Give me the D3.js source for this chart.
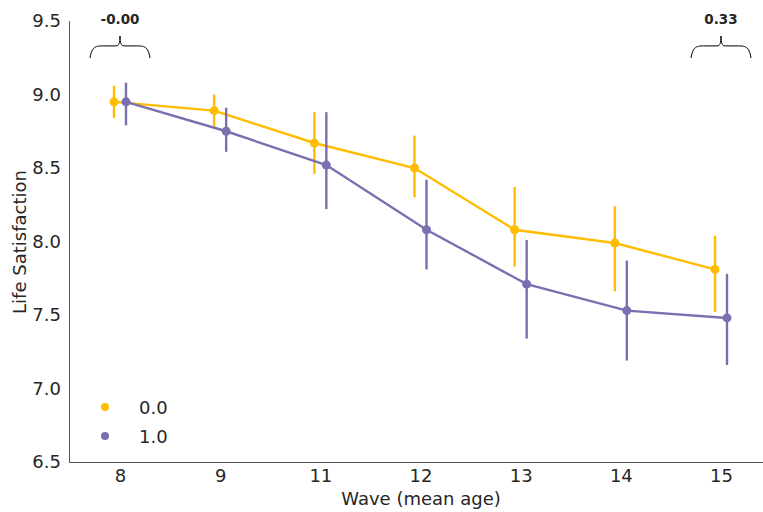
<!DOCTYPE html>
<html>
<head>
<meta charset="utf-8">
<script src="https://cdn.jsdelivr.net/npm/d3@7"></script>
<style>
  html, body { margin: 0; padding: 0; background: #fff; }
  text { font-family: "DejaVu Sans", sans-serif; fill: #262626; }
</style>
</head>
<body>
<svg id="chart" width="763" height="512"></svg>
<script>
// waves (mean age) on the x axis
const waves = ['8', '9', '11', '12', '13', '14', '15']
const groups = ['0.0', '1.0']
const colors = ['#FFBC00', '#7B6FAF']

// mean life satisfaction and 95% ci per group
const mean0 = [8.95, 8.89, 8.67, 8.50, 8.08, 7.99, 7.81]
const lo0 = [8.84, 8.78, 8.46, 8.30, 7.83, 7.66, 7.52]
const hi0 = [9.06, 9.00, 8.88, 8.72, 8.37, 8.24, 8.04]

const mean1 = [8.95, 8.75, 8.52, 8.08, 7.71, 7.53, 7.48]
const lo1 = [8.79, 8.61, 8.22, 7.81, 7.34, 7.19, 7.16]
const hi1 = [9.08, 8.91, 8.88, 8.42, 8.01, 7.87, 7.78]

// difference annotations above the first and last wave
const diffWaves = ['8', '15']
const diffLabels = ['-0.00', '0.33']

const yTicks = [6.5, 7.0, 7.5, 8.0, 8.5, 9.0, 9.5]

//
// Layout
//
const svg = d3.select('#chart')
const mLeft = 69, mTop = 21, mBottom = 462
const fontSize = '18px'
const x = d3.scalePoint().domain(waves).range([120, 721])
const y = d3.scaleLinear().domain([6.5, 9.5]).range([mBottom, mTop])
const dodge = 6

const series = groups.map((g, i) => ({
  name: g,
  color: colors[i],
  off: i === 0 ? -dodge : dodge,
  pts: waves.map((w, j) => ({
    w,
    m: [mean0, mean1][i][j],
    lo: [lo0, lo1][i][j],
    hi: [hi0, hi1][i][j],
  })),
}))

// axes
const yAxis = svg.append('g')
  .attr('transform', `translate(${mLeft},0)`)
  .call(d3.axisLeft(y).tickValues(yTicks).tickFormat(d3.format('.1f')).tickSize(0).tickPadding(8))
const xAxis = svg.append('g')
  .attr('transform', `translate(0,${mBottom})`)
  .call(d3.axisBottom(x).tickSize(0).tickPadding(7))
xAxis.select('.domain').attr('d', `M${mLeft},0.5H770`)
yAxis.select('.domain').attr('d', `M0.5,${mTop}V${mBottom}`)
svg.selectAll('.domain').attr('stroke', '#555').attr('stroke-width', 1)
svg.selectAll('.tick text').style('font-size', fontSize).attr('fill', '#262626')

svg.append('text')
  .attr('x', 421).attr('y', 505)
  .attr('text-anchor', 'middle')
  .style('font-size', fontSize)
  .text('Wave (mean age)')
svg.append('text')
  .attr('transform', 'translate(26,242) rotate(-90)')
  .attr('text-anchor', 'middle')
  .style('font-size', fontSize)
  .text('Life Satisfaction')

// series: error bars, lines, points
const line = d3.line().y(d => y(d.m))
series.forEach(s => {
  const g = svg.append('g')
  g.selectAll('line.err').data(s.pts).join('line')
    .attr('x1', d => x(d.w) + s.off).attr('x2', d => x(d.w) + s.off)
    .attr('y1', d => y(d.lo)).attr('y2', d => y(d.hi))
    .attr('stroke', s.color).attr('stroke-width', 2.4)
  g.append('path')
    .datum(s.pts)
    .attr('d', line.x(d => x(d.w) + s.off))
    .attr('fill', 'none').attr('stroke', s.color).attr('stroke-width', 2.4)
  g.selectAll('circle').data(s.pts).join('circle')
    .attr('cx', d => x(d.w) + s.off).attr('cy', d => y(d.m))
    .attr('r', 4.5).attr('fill', s.color)
})

// braces with difference labels
const brace = (cx, w, yTop, h) => {
  const l = cx - w / 2, r = cx + w / 2, ym = yTop + h * 0.45
  return `M${l},${yTop + h} C${l + 2},${ym} ${l + 6},${ym} ${l + 14},${ym} ` +
    `L${cx - 4},${ym} C${cx - 1},${ym} ${cx},${ym - 3} ${cx},${yTop} ` +
    `C${cx},${ym - 3} ${cx + 1},${ym} ${cx + 4},${ym} ` +
    `L${r - 14},${ym} C${r - 6},${ym} ${r - 2},${ym} ${r},${yTop + h}`
}
diffWaves.forEach((w, i) => {
  const cx = x(w)
  svg.append('path')
    .attr('d', brace(cx, 60, 36, 22))
    .attr('fill', 'none').attr('stroke', '#000').attr('stroke-width', 1)
  svg.append('text')
    .attr('x', cx).attr('y', 24)
    .attr('text-anchor', 'middle')
    .style('font-size', '13.5px').style('font-weight', 'bold')
    .text(diffLabels[i])
})

// legend
const legend = svg.append('g')
groups.forEach((gname, i) => {
  const ly = 407 + i * 29
  legend.append('circle').attr('cx', 105).attr('cy', ly).attr('r', 4).attr('fill', colors[i])
  legend.append('text').attr('x', 139).attr('y', ly + 7)
    .style('font-size', fontSize).text(gname)
})
</script>
</body>
</html>
